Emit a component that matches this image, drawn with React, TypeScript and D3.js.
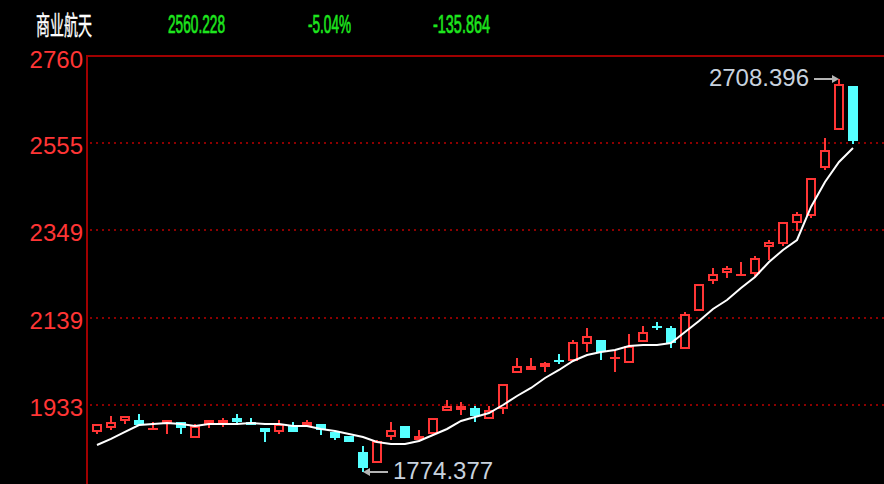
import React, { useEffect, useRef } from "react";
import * as d3 from "d3";

// daily candles (55 sessions)
const opens = [
  1868.9, 1878.4, 1895.0, 1897.4, 1876.0, 1887.9, 1892.7, 1854.6, 1887.9, 1887.9,
  1902.2, 1892.7, 1878.4, 1868.9, 1883.1, 1883.1, 1887.9, 1868.9, 1859.4, 1821.4,
  1795.3, 1857.0, 1883.1, 1849.9, 1864.1, 1918.8, 1921.1, 1925.9, 1899.8, 1923.5,
  2009.1, 2016.2, 2023.4, 2041.0, 2037.6, 2078.0, 2087.5, 2046.0, 2032.9, 2082.8,
  2121.5, 2116.0, 2066.1, 2156.4, 2227.7, 2246.7, 2243.5, 2244.4, 2308.5, 2315.6,
  2365.5, 2382.2, 2496.2, 2586.5, 2691.1,
];
const closes = [
  1887.9, 1892.7, 1906.9, 1885.5, 1877.2, 1897.4, 1878.4, 1883.1, 1897.4, 1897.4,
  1892.7, 1885.5, 1868.9, 1887.9, 1868.9, 1892.7, 1873.6, 1854.6, 1845.1, 1783.4,
  1847.5, 1873.6, 1854.6, 1859.4, 1902.2, 1930.7, 1930.7, 1906.9, 1921.1, 1983.0,
  2025.7, 2025.7, 2032.9, 2040.0, 2082.8, 2097.0, 2059.0, 2047.1, 2073.3, 2106.5,
  2120.8, 2080.4, 2149.3, 2220.6, 2244.4, 2258.6, 2244.4, 2282.4, 2320.4, 2367.9,
  2386.9, 2472.5, 2539.0, 2696.1, 2560.228,
];
const highs = [
  1887.9, 1906.9, 1906.9, 1911.7, 1892.7, 1897.4, 1892.7, 1887.9, 1897.4, 1902.2,
  1911.7, 1902.2, 1878.4, 1897.4, 1892.7, 1897.4, 1887.9, 1868.9, 1859.4, 1835.6,
  1849.9, 1892.7, 1883.1, 1873.6, 1902.2, 1945.0, 1940.2, 1930.7, 1930.7, 1983.0,
  2044.7, 2044.7, 2035.2, 2054.2, 2087.5, 2116.0, 2087.5, 2063.8, 2101.8, 2120.8,
  2130.3, 2120.8, 2154.0, 2220.6, 2258.6, 2263.4, 2272.9, 2287.1, 2325.1, 2367.9,
  2391.7, 2472.5, 2567.5, 2708.396, 2691.1,
];
const lows = [
  1864.1, 1873.6, 1887.9, 1885.5, 1876.0, 1864.1, 1864.1, 1854.6, 1878.4, 1880.8,
  1885.5, 1885.5, 1845.1, 1864.1, 1868.9, 1883.1, 1861.8, 1849.9, 1845.1, 1774.377,
  1795.3, 1849.9, 1854.6, 1845.1, 1864.1, 1918.8, 1909.3, 1892.7, 1899.8, 1911.7,
  2009.1, 2016.2, 2011.5, 2030.5, 2037.6, 2059.0, 2040.0, 2011.5, 2032.9, 2082.8,
  2111.3, 2068.5, 2066.1, 2156.4, 2220.6, 2234.8, 2239.6, 2237.2, 2277.6, 2310.9,
  2346.5, 2377.4, 2491.5, 2586.5, 2553.3,
];
// moving average line
const ma = [
  1838.0, 1852.3, 1868.9, 1885.5, 1887.9, 1890.3, 1887.9, 1883.1, 1887.9, 1887.9,
  1887.9, 1890.3, 1887.9, 1887.9, 1883.1, 1883.1, 1876.0, 1871.3, 1864.1, 1857.0,
  1845.1, 1840.4, 1840.4, 1847.5, 1861.8, 1876.0, 1895.0, 1904.5, 1914.0, 1933.0,
  1954.4, 1973.5, 1997.2, 2016.2, 2037.6, 2051.9, 2059.0, 2063.8, 2073.3, 2075.6,
  2075.6, 2080.4, 2106.5, 2132.7, 2161.2, 2182.6, 2211.1, 2237.2, 2272.9, 2301.4,
  2325.1, 2403.6, 2463.0, 2510.5, 2543.8,
];
const yTicks = [2760, 2555, 2349, 2139, 1933];
const title = "商业航天";
const quote = ["2560.228", "-5.04%", "-135.864"];

const W = 884;
const H = 484;
const RED = "#ff3535";
const CYAN = "#55ffff";
const GRID = "#8c0000";

const App = () => {
  const svgRef = useRef<SVGSVGElement>(null);

  useEffect(() => {
    const svg = d3.select(svgRef.current);
    svg.selectAll("*").remove();

    svg.append("rect").attr("width", W).attr("height", H).attr("fill", "#000");

    const idx = d3.range(opens.length).map(String);
    const x = d3.scaleBand().domain(idx).range([90, 90 + 14 * idx.length]);
    const cx = (i: number) => Math.round((x(String(i)) as number) + x.bandwidth() / 2);
    const y = d3.scaleLinear().domain([1933, 2760]).range([405, 57]);
    const py = (v: number) => Math.round(y(v));

    // header
    const head = svg.append("g");
    head
      .append("text")
      .attr("x", 36)
      .attr("y", 35)
      .attr("fill", "#fff")
      .attr("stroke", "#fff")
      .attr("stroke-width", 0.4)
      .attr("font-family", "'Noto Sans CJK SC', sans-serif")
      .attr("font-size", 26)
      .attr("textLength", 56)
      .attr("lengthAdjust", "spacingAndGlyphs")
      .text(title);
    const qx = [168, 308, 433];
    const qw = [57, 43, 57];
    quote.forEach((q, i) => {
      head
        .append("text")
        .attr("x", qx[i])
        .attr("y", 33)
        .attr("fill", "#1ee61e")
        .attr("stroke", "#1ee61e")
        .attr("stroke-width", 0.7)
        .attr("font-family", "'Liberation Sans', Arial, sans-serif")
        .attr("font-size", 26)
        .attr("textLength", qw[i])
        .attr("lengthAdjust", "spacingAndGlyphs")
        .text(q);
    });

    // frame
    svg.append("rect").attr("x", 86).attr("y", 56).attr("width", 2).attr("height", H - 56).attr("fill", "#a00000");
    svg.append("rect").attr("x", 86).attr("y", 55).attr("width", W - 86).attr("height", 2).attr("fill", "#a00000");

    // grid + labels
    yTicks.forEach((t, i) => {
      if (i > 0) {
        svg
          .append("line")
          .attr("x1", 90)
          .attr("x2", W)
          .attr("y1", py(t))
          .attr("y2", py(t))
          .attr("stroke", GRID)
          .attr("stroke-width", 2)
          .attr("stroke-dasharray", "2,4");
      }
      svg
        .append("text")
        .attr("x", 83)
        .attr("y", py(t) + 11)
        .attr("text-anchor", "end")
        .attr("fill", RED)
        .attr("font-family", "'Liberation Sans', Arial, sans-serif")
        .attr("font-size", 24)
        .text(t);
    });

    // candles
    const g = svg.append("g").attr("shape-rendering", "crispEdges");
    opens.forEach((o, i) => {
      const c = closes[i];
      const up = c >= o;
      const col = up ? RED : CYAN;
      const xc = cx(i);
      let top = py(Math.max(o, c));
      let bot = py(Math.min(o, c));
      if (bot - top < 2) bot = top + 2;
      g.append("rect")
        .attr("x", xc - 1)
        .attr("y", py(highs[i]))
        .attr("width", 2)
        .attr("height", Math.max(0, py(lows[i]) - py(highs[i])))
        .attr("fill", col);
      g.append("rect")
        .attr("x", xc - 5)
        .attr("y", top)
        .attr("width", 10)
        .attr("height", bot - top)
        .attr("fill", col);
      if (up && bot - top > 4) {
        g.append("rect")
          .attr("x", xc - 3)
          .attr("y", top + 2)
          .attr("width", 6)
          .attr("height", bot - top - 4)
          .attr("fill", "#000");
      }
    });

    // moving average
    const line = d3
      .line<number>()
      .x((_, i) => cx(i))
      .y((d) => y(d));
    svg
      .append("path")
      .datum(ma)
      .attr("d", line)
      .attr("fill", "none")
      .attr("stroke", "#fff")
      .attr("stroke-width", 2);

    // max / min markers
    const hiI = d3.maxIndex(highs);
    const loI = d3.minIndex(lows);
    const mark = (i: number, v: number, dir: number) => {
      const tx = cx(i);
      const ty = py(v);
      const m = svg.append("g");
      m.append("line")
        .attr("x1", tx + dir * 4)
        .attr("x2", tx + dir * 25)
        .attr("y1", ty)
        .attr("y2", ty)
        .attr("stroke", "#b4b4b4")
        .attr("stroke-width", 2);
      m.append("path")
        .attr("d", `M${tx},${ty} L${tx + dir * 7},${ty - 4} L${tx + dir * 7},${ty + 4} Z`)
        .attr("fill", "#b4b4b4");
      m.append("text")
        .attr("x", tx + dir * 30)
        .attr("y", ty + 7)
        .attr("text-anchor", dir < 0 ? "end" : "start")
        .attr("fill", "#c8d2de")
        .attr("font-family", "'Liberation Sans', Arial, sans-serif")
        .attr("font-size", 24)
        .text(v.toFixed(3));
    };
    mark(hiI, highs[hiI], -1);
    mark(loI, lows[loI], 1);
  }, []);

  return (
    <svg
      ref={svgRef}
      width={W}
      height={H}
      style={{ position: "absolute", left: 0, top: 0, display: "block" }}
    ></svg>
  );
};

export default App;
